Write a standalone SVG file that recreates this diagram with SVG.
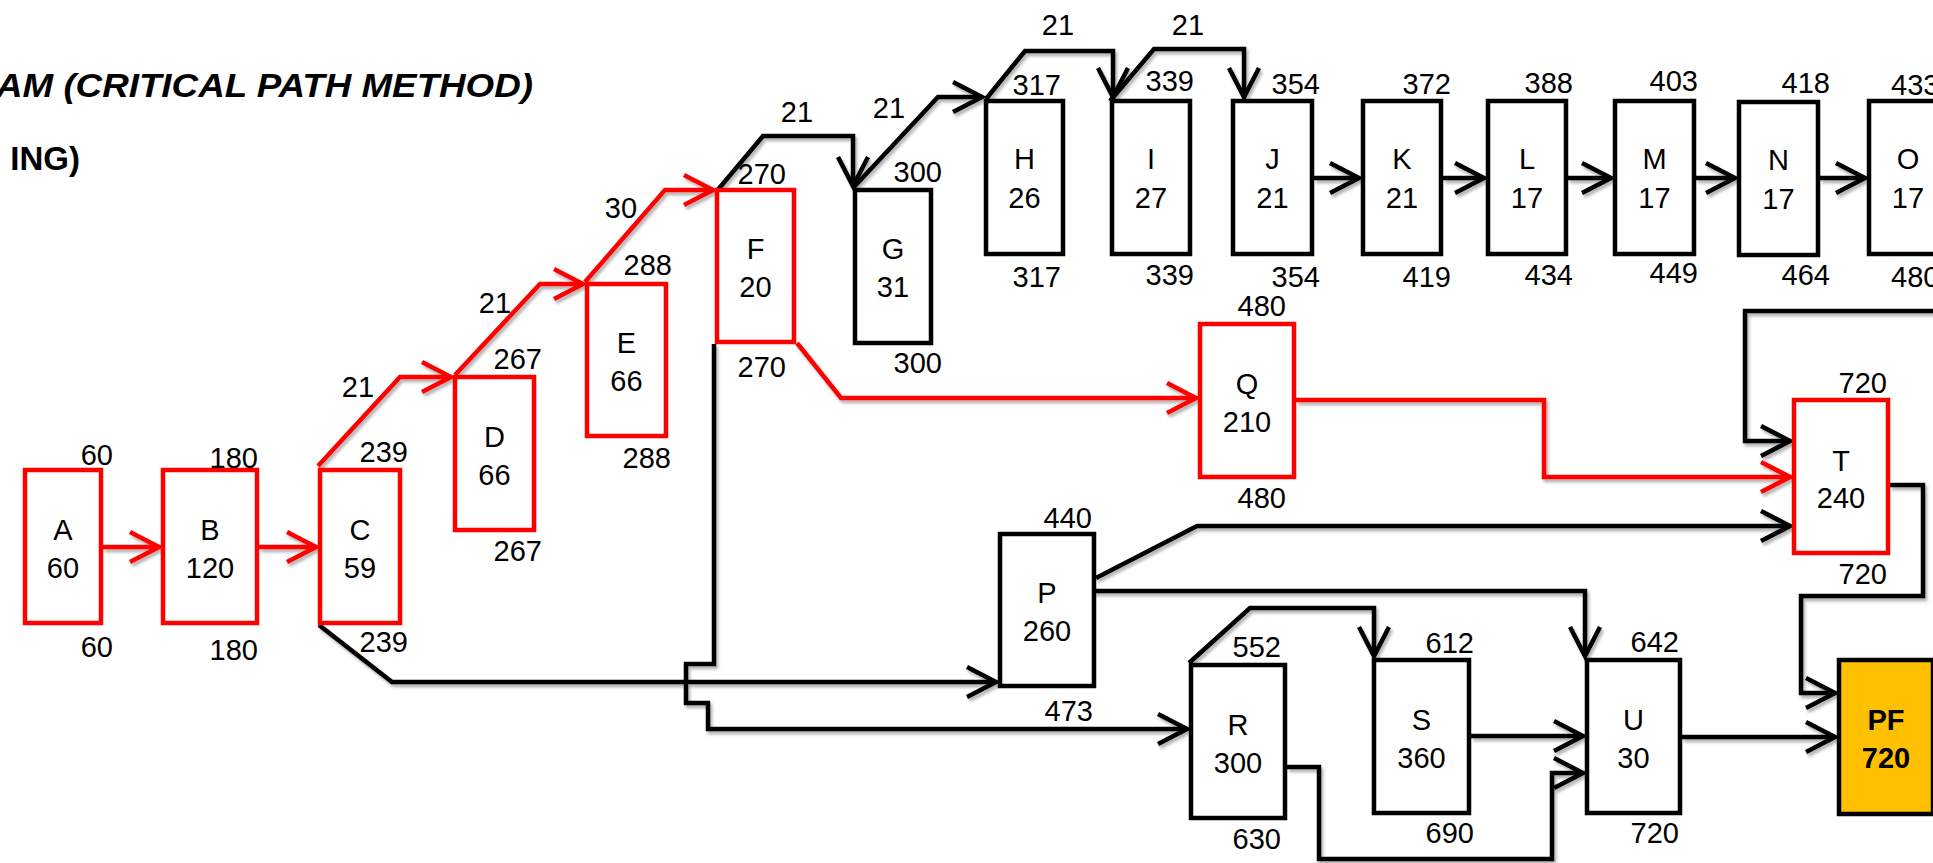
<svg xmlns="http://www.w3.org/2000/svg" width="1933" height="863" viewBox="0 0 1933 863">
<style>
text{font-family:"Liberation Sans",Arial,sans-serif;font-size:29px;fill:#000}
.nm{text-anchor:middle}
.lb{text-anchor:end}
.el{text-anchor:middle}
.title{font-size:33px;font-weight:bold}
.box{fill:#fff;stroke:#000;stroke-width:4.5}
.crit{fill:#fff;stroke:#ff0000;stroke-width:4.5}
.fin{fill:#ffc000;stroke:#000;stroke-width:4.5}
.bold{font-weight:bold}
.cb{fill:none;stroke:#000;stroke-width:4.5;stroke-linejoin:miter;marker-end:url(#ab)}
.cr{fill:none;stroke:#ff0000;stroke-width:4.5;stroke-linejoin:miter;marker-end:url(#ar)}
</style>
<defs>
<marker id="ab" markerUnits="userSpaceOnUse" markerWidth="40" markerHeight="40" refX="0" refY="0" orient="auto" overflow="visible">
<path d="M-29,-15 L0,0 L-29,15" fill="none" stroke="#000" stroke-width="4.5"/>
</marker>
<marker id="ar" markerUnits="userSpaceOnUse" markerWidth="40" markerHeight="40" refX="0" refY="0" orient="auto" overflow="visible">
<path d="M-29,-15 L0,0 L-29,15" fill="none" stroke="#ff0000" stroke-width="4.5"/>
</marker>
<filter id="sh" x="-5%" y="-5%" width="110%" height="110%">
<feDropShadow dx="2" dy="3" stdDeviation="1.5" flood-color="#000" flood-opacity="0.3"/>
</filter>
</defs>
<rect width="1933" height="863" fill="#fff"/>
<g id="title">
<text class="title" x="-4" y="97" font-style="italic" textLength="537" lengthAdjust="spacingAndGlyphs">AM (CRITICAL PATH METHOD)</text>
<text class="title" x="80" y="170" text-anchor="end">ING)</text>
</g>
<g id="connectors">
<g filter="url(#sh)">
<path class="cr" d="M103,547 H159"/>
<path class="cr" d="M259,547 H316"/>
<path class="cr" d="M318,466 L400,377 H451"/>
<path class="cr" d="M455,375 L540,284 H583"/>
<path class="cr" d="M585,282 L665,190 H713"/>
<path class="cr" d="M797,343 L841,398 H1196"/>
<path class="cr" d="M1296,400 H1544 V477 H1790"/>
<path class="cb" d="M716,192 L763,136 H853 V186"/>
<path class="cb" d="M853,188 L938,97 H982"/>
<path class="cb" d="M986,99 L1025,51 H1113 V97"/>
<path class="cb" d="M1110,101 L1154,49 H1244 V97"/>
<path class="cb" d="M1314,178 H1359"/>
<path class="cb" d="M1443,178 H1484"/>
<path class="cb" d="M1568,178 H1611"/>
<path class="cb" d="M1696,178 H1735"/>
<path class="cb" d="M1820,178 H1865"/>
<path class="cb" d="M319,625 L392,682 H996"/>
<path class="cb" d="M714,344 V664 H686 V703 H708 V729 H1187"/>
<path class="cb" d="M1096,578 L1197,526 H1790"/>
<path class="cb" d="M1093,591 H1585 V656"/>
<path class="cb" d="M1189,663 L1250,608 H1374 V656"/>
<path class="cb" d="M1287,767 H1319 V859 H1552 V773 H1583"/>
<path class="cb" d="M1471,736 H1583"/>
<path class="cb" d="M1682,737 H1835"/>
<path class="cb" d="M1945,311 H1745 V441 H1790"/>
<path class="cb" d="M1890,485 H1923 V596 H1801 V693 H1835"/>
</g>
<text class="el" x="358" y="397">21</text>
<text class="el" x="495" y="313">21</text>
<text class="el" x="621" y="218">30</text>
<text class="el" x="797" y="122">21</text>
<text class="el" x="889" y="118">21</text>
<text class="el" x="1058" y="35">21</text>
<text class="el" x="1188" y="35">21</text>
</g>
<g id="A"><rect class="crit" x="25" y="470" width="76" height="153"/><text class="nm" x="63" y="540">A</text><text class="nm" x="63" y="578">60</text><text class="lb" x="113" y="465">60</text><text class="lb" x="113" y="657">60</text></g>
<g id="B"><rect class="crit" x="163" y="470" width="94" height="153"/><text class="nm" x="210" y="540">B</text><text class="nm" x="210" y="578">120</text><text class="lb" x="258" y="468">180</text><text class="lb" x="258" y="660">180</text></g>
<g id="C"><rect class="crit" x="320" y="470" width="80" height="153"/><text class="nm" x="360" y="540">C</text><text class="nm" x="360" y="578">59</text><text class="lb" x="408" y="462">239</text><text class="lb" x="408" y="652">239</text></g>
<g id="D"><rect class="crit" x="455" y="377" width="79" height="153"/><text class="nm" x="494.5" y="447">D</text><text class="nm" x="494.5" y="485">66</text><text class="lb" x="542" y="369">267</text><text class="lb" x="542" y="561">267</text></g>
<g id="E"><rect class="crit" x="587" y="284" width="79" height="152"/><text class="nm" x="626.5" y="353">E</text><text class="nm" x="626.5" y="391">66</text><text class="lb" x="672" y="275">288</text><text class="lb" x="671" y="468">288</text></g>
<g id="F"><rect class="crit" x="717" y="190" width="77" height="152"/><text class="nm" x="755.5" y="259">F</text><text class="nm" x="755.5" y="297">20</text><text class="lb" x="786" y="184">270</text><text class="lb" x="786" y="377">270</text></g>
<g id="G"><rect class="box" x="855" y="190" width="76" height="153"/><text class="nm" x="893" y="259">G</text><text class="nm" x="893" y="297">31</text><text class="lb" x="942" y="182">300</text><text class="lb" x="942" y="373">300</text></g>
<g id="H"><rect class="box" x="986" y="101" width="77" height="153"/><text class="nm" x="1024.5" y="169">H</text><text class="nm" x="1024.5" y="208">26</text><text class="lb" x="1061" y="95">317</text><text class="lb" x="1061" y="287">317</text></g>
<g id="I"><rect class="box" x="1112" y="101" width="78" height="153"/><text class="nm" x="1151" y="169">I</text><text class="nm" x="1151" y="208">27</text><text class="lb" x="1194" y="91">339</text><text class="lb" x="1194" y="285">339</text></g>
<g id="J"><rect class="box" x="1233" y="101" width="79" height="153"/><text class="nm" x="1272.5" y="169">J</text><text class="nm" x="1272.5" y="208">21</text><text class="lb" x="1320" y="94">354</text><text class="lb" x="1320" y="287">354</text></g>
<g id="K"><rect class="box" x="1363" y="101" width="78" height="153"/><text class="nm" x="1402" y="169">K</text><text class="nm" x="1402" y="208">21</text><text class="lb" x="1451" y="94">372</text><text class="lb" x="1451" y="287">419</text></g>
<g id="L"><rect class="box" x="1488" y="101" width="78" height="153"/><text class="nm" x="1527" y="169">L</text><text class="nm" x="1527" y="208">17</text><text class="lb" x="1573" y="93">388</text><text class="lb" x="1573" y="285">434</text></g>
<g id="M"><rect class="box" x="1615" y="101" width="79" height="153"/><text class="nm" x="1654.5" y="169">M</text><text class="nm" x="1654.5" y="208">17</text><text class="lb" x="1698" y="91">403</text><text class="lb" x="1698" y="283">449</text></g>
<g id="N"><rect class="box" x="1739" y="102" width="79" height="153"/><text class="nm" x="1778.5" y="170">N</text><text class="nm" x="1778.5" y="209">17</text><text class="lb" x="1830" y="93">418</text><text class="lb" x="1830" y="285">464</text></g>
<g id="O"><rect class="box" x="1869" y="101" width="78" height="153"/><text class="nm" x="1908" y="169">O</text><text class="nm" x="1908" y="208">17</text><text x="1891" y="95">433</text><text x="1891" y="287">480</text></g>
<g id="Q"><rect class="crit" x="1200" y="324" width="94" height="153"/><text class="nm" x="1247" y="394">Q</text><text class="nm" x="1247" y="432">210</text><text class="lb" x="1286" y="316">480</text><text class="lb" x="1286" y="508">480</text></g>
<g id="T"><rect class="crit" x="1794" y="400" width="94" height="153"/><text class="nm" x="1841" y="471">T</text><text class="nm" x="1841" y="508">240</text><text class="lb" x="1887" y="393">720</text><text class="lb" x="1887" y="584">720</text></g>
<g id="P"><rect class="box" x="1000" y="534" width="94" height="152"/><text class="nm" x="1047" y="603">P</text><text class="nm" x="1047" y="641">260</text><text class="lb" x="1092" y="528">440</text><text class="lb" x="1093" y="721">473</text></g>
<g id="R"><rect class="box" x="1191" y="665" width="94" height="153"/><text class="nm" x="1238" y="735">R</text><text class="nm" x="1238" y="773">300</text><text class="lb" x="1281" y="657">552</text><text class="lb" x="1281" y="849">630</text></g>
<g id="S"><rect class="box" x="1374" y="660" width="95" height="153"/><text class="nm" x="1421.5" y="730">S</text><text class="nm" x="1421.5" y="768">360</text><text class="lb" x="1474" y="653">612</text><text class="lb" x="1474" y="843">690</text></g>
<g id="U"><rect class="box" x="1587" y="660" width="93" height="153"/><text class="nm" x="1633.5" y="730">U</text><text class="nm" x="1633.5" y="768">30</text><text class="lb" x="1679" y="652">642</text><text class="lb" x="1679" y="843">720</text></g>
<g id="PF"><rect class="fin" x="1839" y="660" width="94" height="154"/><text class="nm bold" x="1886" y="730">PF</text><text class="nm bold" x="1886" y="768">720</text></g>
</svg>
